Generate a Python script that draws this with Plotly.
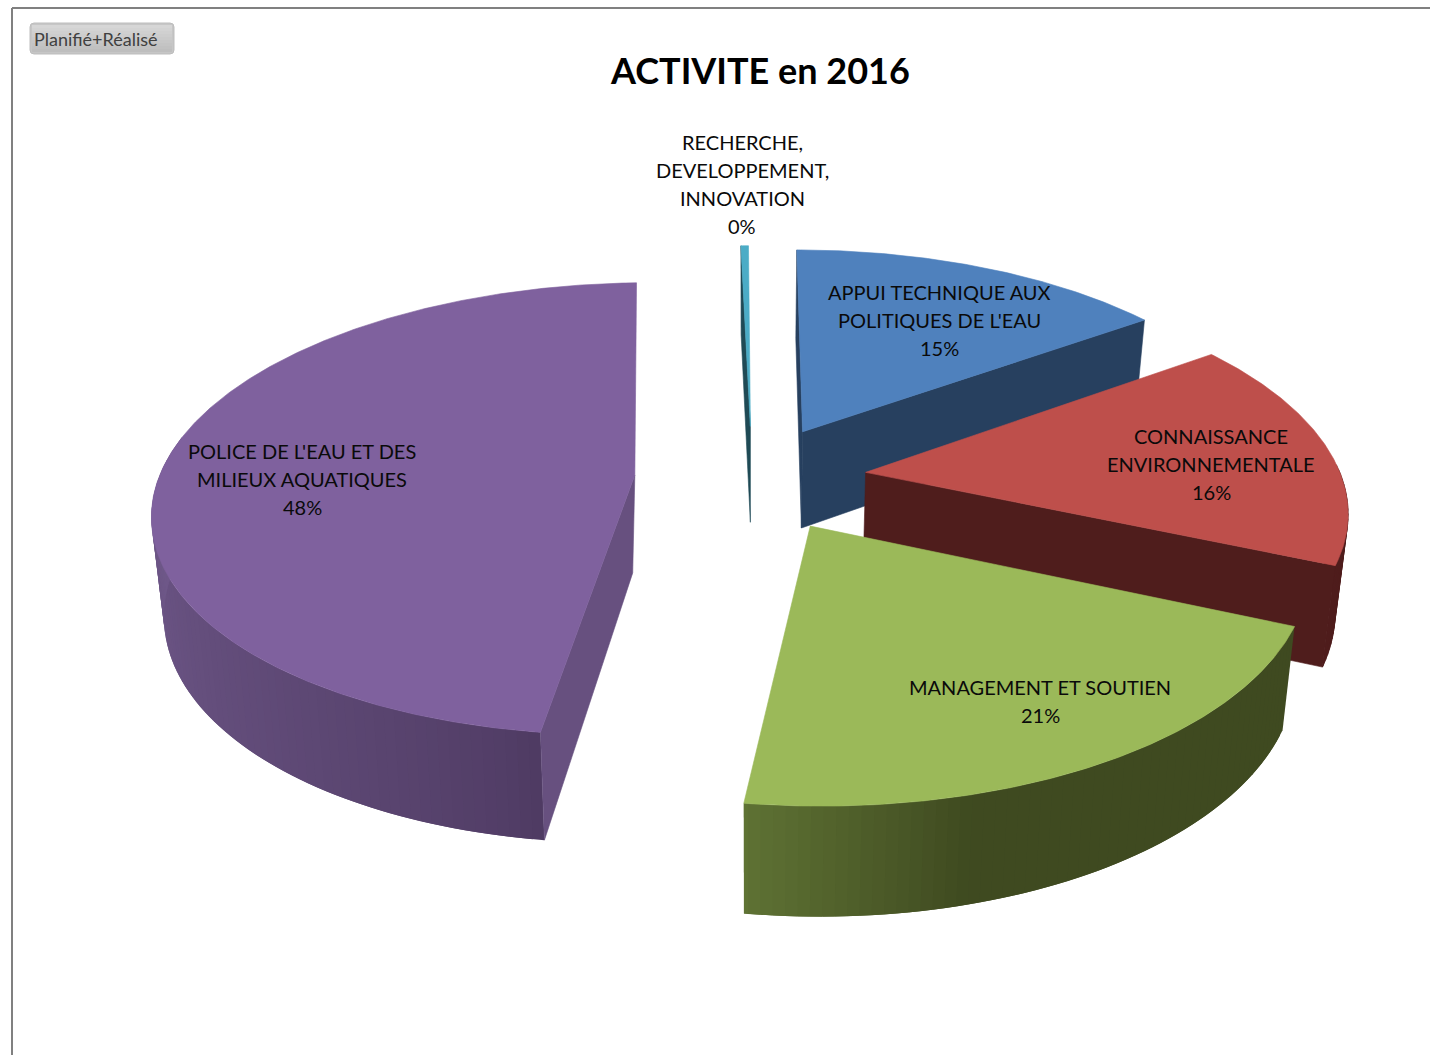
import numpy as np
import plotly.graph_objects as go

# ---- data ----
title = "ACTIVITE en 2016"
button_label = "Planifié+Réalisé"
categories = [["APPUI TECHNIQUE AUX", "POLITIQUES DE L'EAU"],
              ["CONNAISSANCE", "ENVIRONNEMENTALE"],
              ["MANAGEMENT ET SOUTIEN"],
              ["POLICE DE L'EAU ET DES", "MILIEUX AQUATIQUES"],
              ["RECHERCHE,", "DEVELOPPEMENT,", "INNOVATION"]]
values = [15.2, 16.4, 20.6, 47.5, 0.3]
top_colors = ["#4F81BD", "#BE4F4B", "#9BB959", "#7F619E", "#4BACC6"]
wall_colors = ["#27405F", "#4F1D1C", "#3F4A20", "#67507F", "#1F4A55"]
label_x = [939, 1211, 1040, 302, 742]
label_y = [320, 464, 701, 479, 184]

# ---- projection of the exploded, tilted disc ----
CX, CY = 752.0, 478.0
SCALE_X, SCALE_Y, PERSP = 476.0, 222.0, 0.15
EXPLODE = [0.241, 0.241, 0.241, 0.247, 0.241]
DEPTH = 98.0
START = -0.3
VANISH = [750, 750, 750, 720, 750]
VSHIFT = 0.022
APEX_SHIFT = [0, 0, 0, -4, 0]
TRIM_START = [0.4, 0, 0, 0, 0]
TRIM_END = [0, 0, 0, 0.5, 0]
LINE_STEP = 28


def project(X, Y, drop=False, vanish=750):
    X, Y = np.asarray(X, float), np.asarray(Y, float)
    w = 1 + PERSP * Y
    sx = CX + SCALE_X * X / w
    sy = CY - SCALE_Y * Y / w
    if drop:
        sx = sx - (sx - vanish) * VSHIFT
        sy = sy + DEPTH / w ** 0.6
    return sx, sy


def mix(a, b, t):
    ca = [int(a[i:i + 2], 16) for i in (1, 3, 5)]
    cb = [int(b[i:i + 2], 16) for i in (1, 3, 5)]
    return "rgb(%d,%d,%d)" % tuple(round(p + (q - p) * t) for p, q in zip(ca, cb))


fig = go.Figure()


def poly(xs, ys, color, lw=0.6):
    fig.add_trace(go.Scatter(
        x=list(xs) + [xs[0]], y=list(ys) + [ys[0]], mode="lines", fill="toself",
        fillcolor=color, line=dict(color=color, width=lw),
        hoverinfo="skip", showlegend=False))


def wall_color(i, theta):
    if i == 3:  # purple: lighter towards the left side
        t = np.clip((theta - 188) / 82, 0, 1) ** 0.7
        return mix("#4E3A62", "#6F5889", t)
    if i == 2:  # green: lighter towards the left end
        t = np.clip((theta - 165) / 23, 0, 1)
        return mix("#3F4A20", "#5F7334", t)
    return wall_colors[i]


edges = START + np.cumsum([0] + values) * 3.6
order = [4, 0, 1, 2, 3]
for i in order:
    a0, a1 = edges[i], edges[i + 1]
    mid = np.radians((a0 + a1) / 2)
    ax, ay = EXPLODE[i] * np.sin(mid), EXPLODE[i] * np.cos(mid)
    a0 += TRIM_START[i]
    a1 -= TRIM_END[i]
    th = np.radians(np.linspace(a0, a1, max(6, int((a1 - a0) * 2))))
    ox, oy = ax + np.sin(th), ay + np.cos(th)
    v = VANISH[i]

    def radial(t, col):
        px, py = ax + np.sin(t), ay + np.cos(t)
        tx, ty = project([ax, px], [ay, py])
        bx, by = project([ax, px], [ay, py], True, v)
        poly([tx[0], tx[1], bx[1], bx[0] + APEX_SHIFT[i]], [ty[0], ty[1], by[1], by[0]], col)

    # outer wall: overlapping facets painted from one end to the other
    lo, hi = max(a0, 88), min(a1, 280)
    if hi > lo:
        step = 1.25
        s0 = lo
        while s0 < hi - 1e-6:
            f1 = min(hi, s0 + 2 * step)
            tt = np.radians(np.linspace(s0, f1, 4))
            wx, wy = ax + np.sin(tt), ay + np.cos(tt)
            tx, ty = project(wx, wy)
            bx, by = project(wx, wy, True, v)
            poly(list(tx) + list(bx[::-1]), list(ty) + list(by[::-1]),
                 wall_color(i, s0 + step / 2), lw=0.5 if i == 1 else 0)
            s0 += step

    # radial walls
    if i in (0, 4):
        radial(np.radians(a0), wall_colors[i])
    if i in (0, 1):
        radial(np.radians(a1), wall_colors[i])
    if i == 3:
        radial(np.radians(a0), wall_colors[i])

    # top face
    tx, ty = project(np.r_[ax, ox], np.r_[ay, oy])
    poly(list(tx), list(ty), top_colors[i])

shapes = [
    dict(type="line", x0=12, x1=1430, y0=8, y1=8, line=dict(color="#808080", width=2)),
    dict(type="line", x0=12, x1=12, y0=8, y1=1055, line=dict(color="#808080", width=2)),
    dict(type="path",
         path="M34,23 L170,23 Q174,23 174,27 L174,50 Q174,54 170,54 L34,54 Q30,54 30,50 L30,27 Q30,23 34,23 Z",
         fillcolor="#C6C6C6", line=dict(color="#BDBDBD", width=1)),
]
for k in range(9):
    shapes.append(dict(type="rect", x0=32, x1=172, y0=25 + 3 * k, y1=28 + 3 * k,
                       fillcolor=mix("#D6D6D6", "#BEBEBE", k / 8), line=dict(width=0)))

annotations = [dict(x=760, y=70, text="<b>%s</b>" % title, showarrow=False,
                    font=dict(family="Lato", size=36, color="#000000")),
               dict(x=96, y=38.5, text=button_label, showarrow=False,
                    font=dict(family="Lato", size=18, color="#404040"))]
for name, val, lx, ly in zip(categories, values, label_x, label_y):
    lines = name + ["%.0f%%" % val]
    for k, line in enumerate(lines):
        annotations.append(dict(x=lx, y=ly + (k - (len(lines) - 1) / 2) * LINE_STEP, text=line,
                                showarrow=False, align="center",
                                font=dict(family="Lato", size=20, color="#0A0A0A")))

fig.update_layout(
    width=1430, height=1055, margin=dict(l=0, r=0, t=0, b=0),
    paper_bgcolor="white", plot_bgcolor="white",
    xaxis=dict(range=[0, 1430], visible=False, fixedrange=True),
    yaxis=dict(range=[1055, 0], visible=False, fixedrange=True),
    shapes=shapes, annotations=annotations, showlegend=False)

fig.write_html("out.html", config=dict(displayModeBar=False),
               post_script="document.body.style.margin='0';document.body.style.overflow='hidden';")
